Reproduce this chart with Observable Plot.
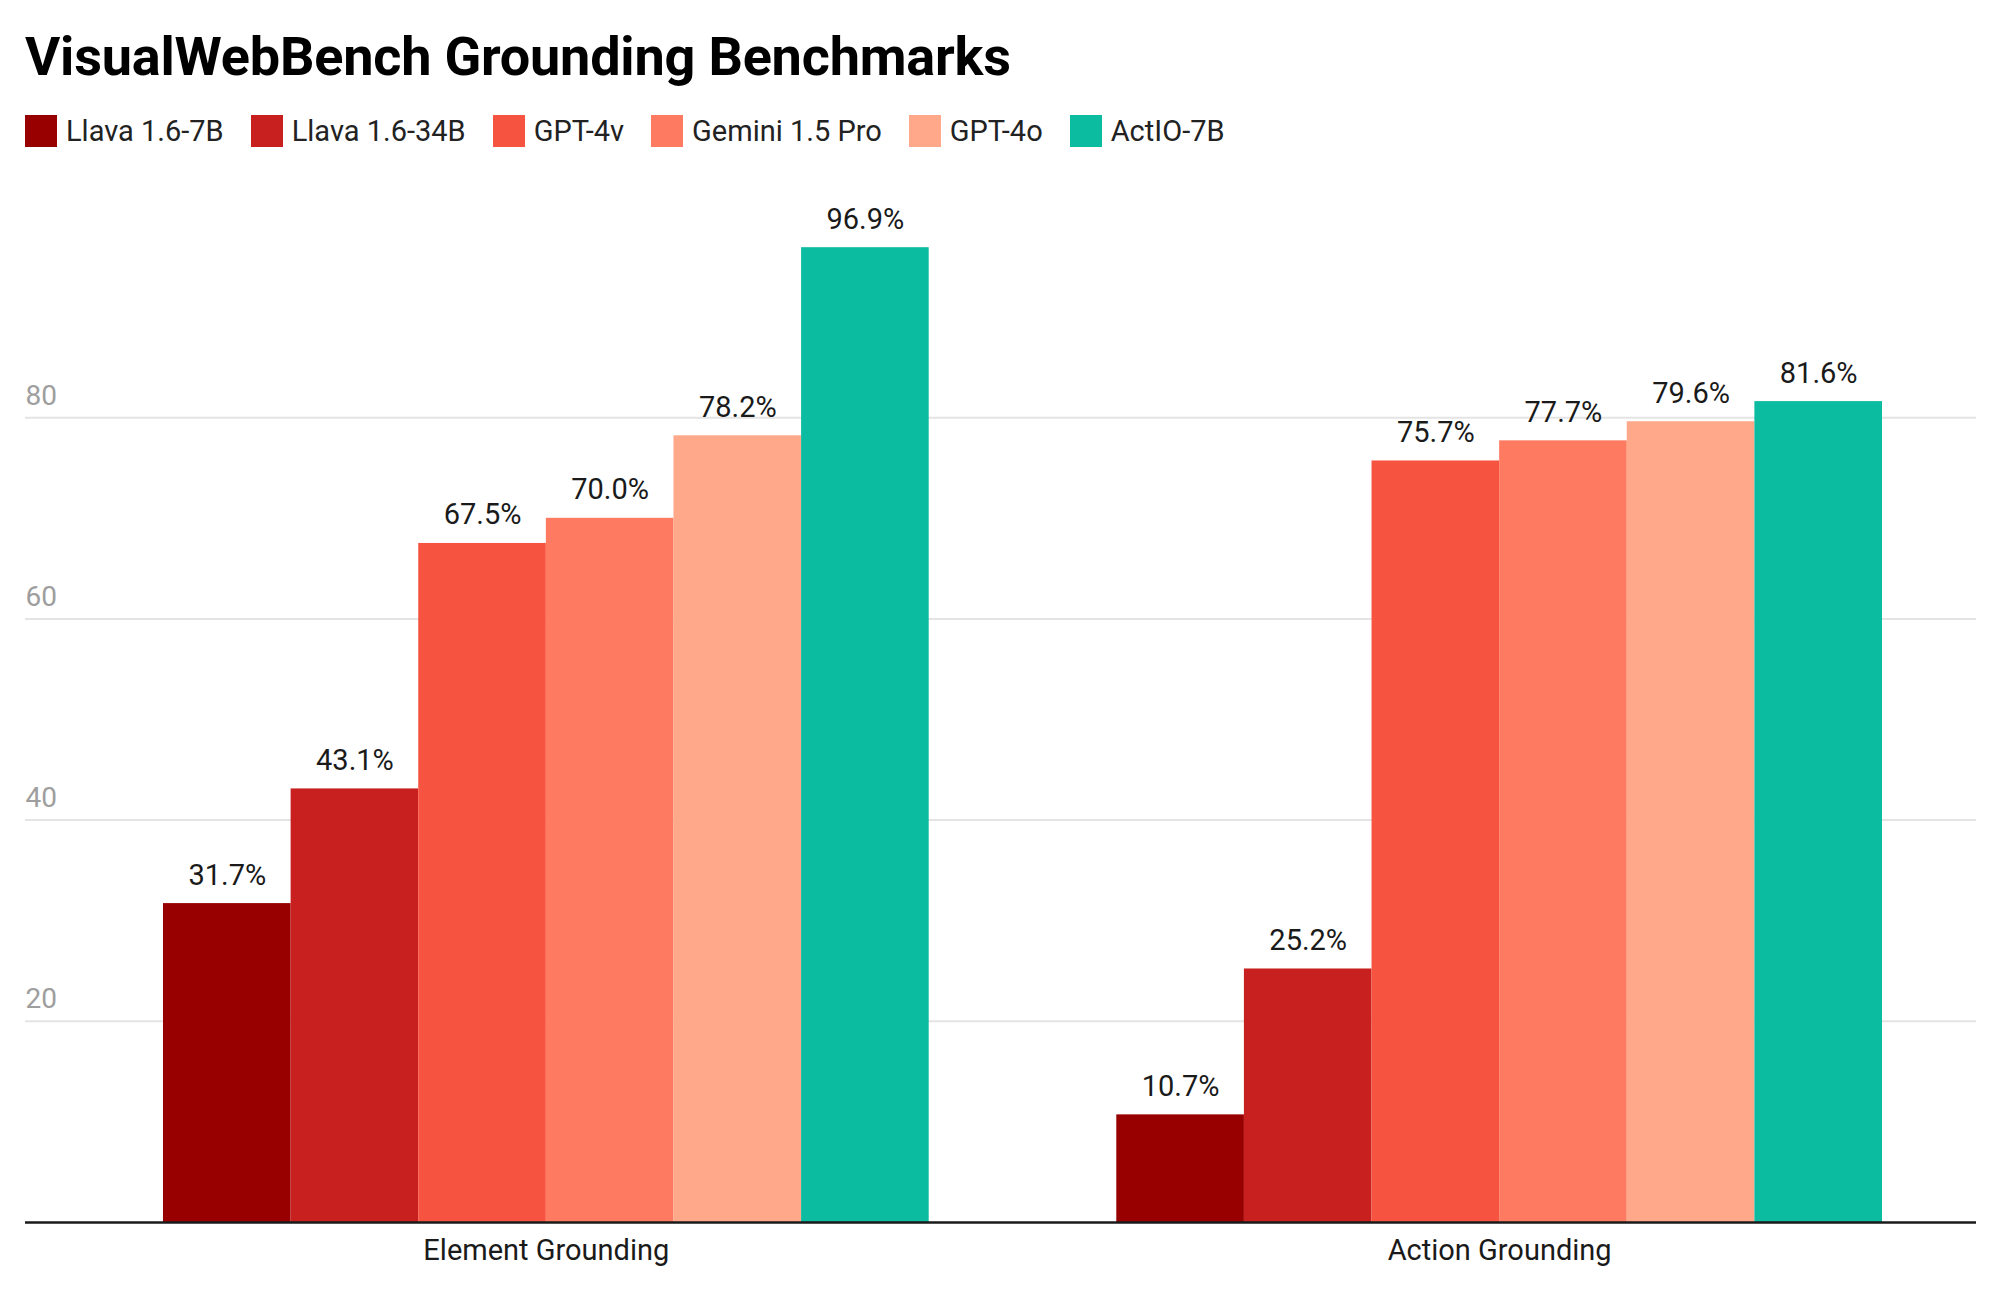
<!DOCTYPE html>
<html>
<head>
<meta charset="utf-8">
<script src="https://cdn.jsdelivr.net/npm/d3@7"></script>
<script src="https://cdn.jsdelivr.net/npm/@observablehq/plot@0.6"></script>
<style>
  html, body { margin: 0; padding: 0; background: #fff; }
  body { width: 2000px; height: 1299px; position: relative; overflow: hidden; font-family: Roboto, "Noto Sans", sans-serif; }
  #title { position: absolute; left: 25px; top: 30px; font-size: 54px; line-height: 54px; font-weight: 700; color: #000; white-space: nowrap; letter-spacing: -0.2px; }
  #legend { position: absolute; left: 25px; top: 115px; display: flex; align-items: center; height: 32px; }
  .item { display: flex; align-items: center; margin-right: 27px; }
  .sw { width: 32px; height: 32px; margin-right: 9px; }
  .lab { font-size: 29px; color: #222; line-height: 32px; white-space: nowrap; }
  #chart { position: absolute; left: 0; top: 160px; }
</style>
</head>
<body>
<div id="title">VisualWebBench Grounding Benchmarks</div>
<div id="legend"></div>
<div id="chart"></div>
<script>
const categories = ["Element Grounding", "Action Grounding"];
const models = ["Llava 1.6-7B", "Llava 1.6-34B", "GPT-4v", "Gemini 1.5 Pro", "GPT-4o", "ActIO-7B"];
const colors = ["#980000", "#c8201f", "#f75341", "#fe7b62", "#ffa88a", "#0cbca1"];
const elementValues = [31.7, 43.1, 67.5, 70.0, 78.2, 96.9];
const actionValues = [10.7, 25.2, 75.7, 77.7, 79.6, 81.6];
const yTicks = [20, 40, 60, 80];

const seriesByCategory = [elementValues, actionValues];
const GAP = 1.47; // gap between groups, in bar widths
const data = [];
categories.forEach((cat, gi) => {
  models.forEach((m, mi) => {
    const pos = gi * (models.length + GAP) + mi;
    data.push({category: cat, model: m, value: seriesByCategory[gi][mi], x1: pos, x2: pos + 1});
  });
});
const groups = categories.map((cat, gi) => ({category: cat, center: gi * (models.length + GAP) + models.length / 2}));

// legend
const legend = document.getElementById("legend");
models.forEach((m, i) => {
  const it = document.createElement("div");
  it.className = "item";
  const sw = document.createElement("div");
  sw.className = "sw";
  sw.style.background = colors[i];
  const lab = document.createElement("div");
  lab.className = "lab";
  lab.textContent = m;
  it.appendChild(sw); it.appendChild(lab);
  legend.appendChild(it);
});

const xMax = categories.length * models.length + (categories.length - 1) * GAP;

const chart = Plot.plot({
  width: 2000,
  height: 1139,
  marginLeft: 25,
  marginRight: 24,
  marginTop: 56,
  marginBottom: 77,
  style: {fontFamily: "Roboto, 'Noto Sans', sans-serif", background: "#fff"},
  x: {type: "linear", domain: [0, xMax], range: [163, 1882], axis: null},
  y: {domain: [0, 100], axis: null},
  color: {domain: models, range: colors},
  marks: [
    Plot.ruleY(yTicks, {stroke: "#e4e4e4", strokeWidth: 2}),
    Plot.text(yTicks, {y: d => d, text: d => String(d), frameAnchor: "left", textAnchor: "start", lineAnchor: "bottom", dy: -13, fontSize: 28, fill: "#9e9e9e"}),
    Plot.rectY(data, {x1: "x1", x2: "x2", y1: 0, y2: "value", fill: "model"}),
    Plot.text(data, {x: d => (d.x1 + d.x2) / 2, y: "value", text: d => d.value.toFixed(1) + "%", lineAnchor: "bottom", dy: -19, fontSize: 29, fill: "#1a1a1a"}),
    Plot.ruleY([0], {stroke: "#1a1a1a", strokeWidth: 2.5}),
    Plot.text(groups, {x: "center", y: 0, text: "category", lineAnchor: "bottom", dy: 37, fontSize: 29, fill: "#1a1a1a"})
  ]
});
document.getElementById("chart").appendChild(chart);
</script>
</body>
</html>
